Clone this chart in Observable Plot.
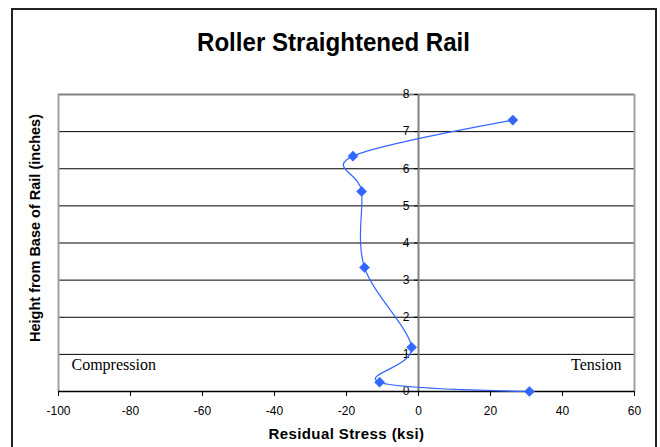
<!DOCTYPE html>
<html>
<head>
<meta charset="utf-8">
<script src="https://cdn.jsdelivr.net/npm/d3@7"></script>
<script src="https://cdn.jsdelivr.net/npm/@observablehq/plot@0.6"></script>
<style>
  html, body { margin: 0; padding: 0; background: #fff; overflow: hidden; }
  #wrap { position: relative; width: 660px; height: 447px; }
  #border { position: absolute; left: 11px; top: 8px; width: 646px; height: 460px; border: 2px solid #222; box-sizing: border-box; pointer-events: none; }
</style>
</head>
<body>
<div id="wrap"><div id="border"></div></div>
<script>
const title = "Roller Straightened Rail";
const xLabel = "Residual Stress (ksi)";
const yLabel = "Height from Base of Rail (inches)";
const regionLabels = ["Compression", "Tension"];
const stress = [30.8, -10.8, -1.9, -15.0, -15.8, -18.2, 26.2];
const heightIn = [0.0, 0.25, 1.19, 3.34, 5.39, 6.34, 7.31];
const xTicks = [-100, -80, -60, -40, -20, 0, 20, 40, 60];
const yTicks = [0, 1, 2, 3, 4, 5, 6, 7, 8];
const gridY = [1, 2, 3, 4, 5, 6, 7];

const data = stress.map((s, i) => ({stress: s, h: heightIn[i]}));
const blue = "#3366ff";
const serif = "'Liberation Serif', 'Times New Roman', serif";

const chart = Plot.plot({
  width: 660,
  height: 447,
  marginLeft: 58,
  marginRight: 26,
  marginTop: 94,
  marginBottom: 56,
  style: {fontFamily: "'Liberation Sans', Arial, sans-serif", fontSize: "12px", color: "#000", background: "transparent"},
  x: {domain: [-100, 60]},
  y: {domain: [0, 8], axis: null},
  marks: [
    Plot.ruleY(gridY, {stroke: "#000", strokeWidth: 1}),
    Plot.ruleY([8], {stroke: "#808080", strokeWidth: 2}),
    Plot.ruleX([-100, 60], {stroke: "#a0a0a0", strokeWidth: 2}),
    Plot.ruleX([0], {stroke: "#808080", strokeWidth: 2}),
    Plot.ruleY(yTicks, {x1: 0, x2: 0, insetLeft: -4, stroke: "#000"}),
    Plot.text(yTicks, {x: 0, y: d => d, text: d => String(d), dx: -9, textAnchor: "end", fontSize: 12}),
    Plot.ruleY([0], {stroke: "#000", strokeWidth: 1.5}),
    Plot.axisX(xTicks, {tickSize: 5, tickPadding: 10, stroke: "#000", fontSize: 12, label: null, tickFormat: d => String(d)}),
    Plot.text([regionLabels[0]], {frameAnchor: "bottom-left", dx: 13, dy: -27, textAnchor: "start", lineAnchor: "middle", fontFamily: serif, fontSize: 16}),
    Plot.text([regionLabels[1]], {frameAnchor: "bottom-right", dx: -13, dy: -27, textAnchor: "end", lineAnchor: "middle", fontFamily: serif, fontSize: 16}),
    Plot.line(data, {x: "stress", y: "h", curve: "cardinal", stroke: blue, strokeWidth: 1.2}),
    Plot.dot(data, {x: "stress", y: "h", symbol: "diamond2", r: 4.6, fill: blue, stroke: blue, strokeWidth: 0.5}),
    Plot.text([title], {frameAnchor: "top", dx: -13, dy: -52, lineAnchor: "middle", fontSize: 25, fontWeight: "bold"}),
    Plot.text([xLabel], {frameAnchor: "bottom", dy: 42.5, lineAnchor: "middle", fontSize: 15, fontWeight: "bold"}),
    Plot.text([yLabel], {frameAnchor: "left", dx: -23, dy: -15, rotate: -90, textAnchor: "middle", lineAnchor: "middle", fontSize: 14.5, fontWeight: "bold"})
  ]
});
d3.select(chart).selectAll("text")
  .filter(function() { return this.textContent === title; })
  .attr("textLength", 273)
  .attr("lengthAdjust", "spacingAndGlyphs");
d3.select(chart).selectAll("text")
  .filter(function() { return this.textContent === xLabel; })
  .style("letter-spacing", "0.4px");
document.getElementById("wrap").prepend(chart);
</script>
</body>
</html>
